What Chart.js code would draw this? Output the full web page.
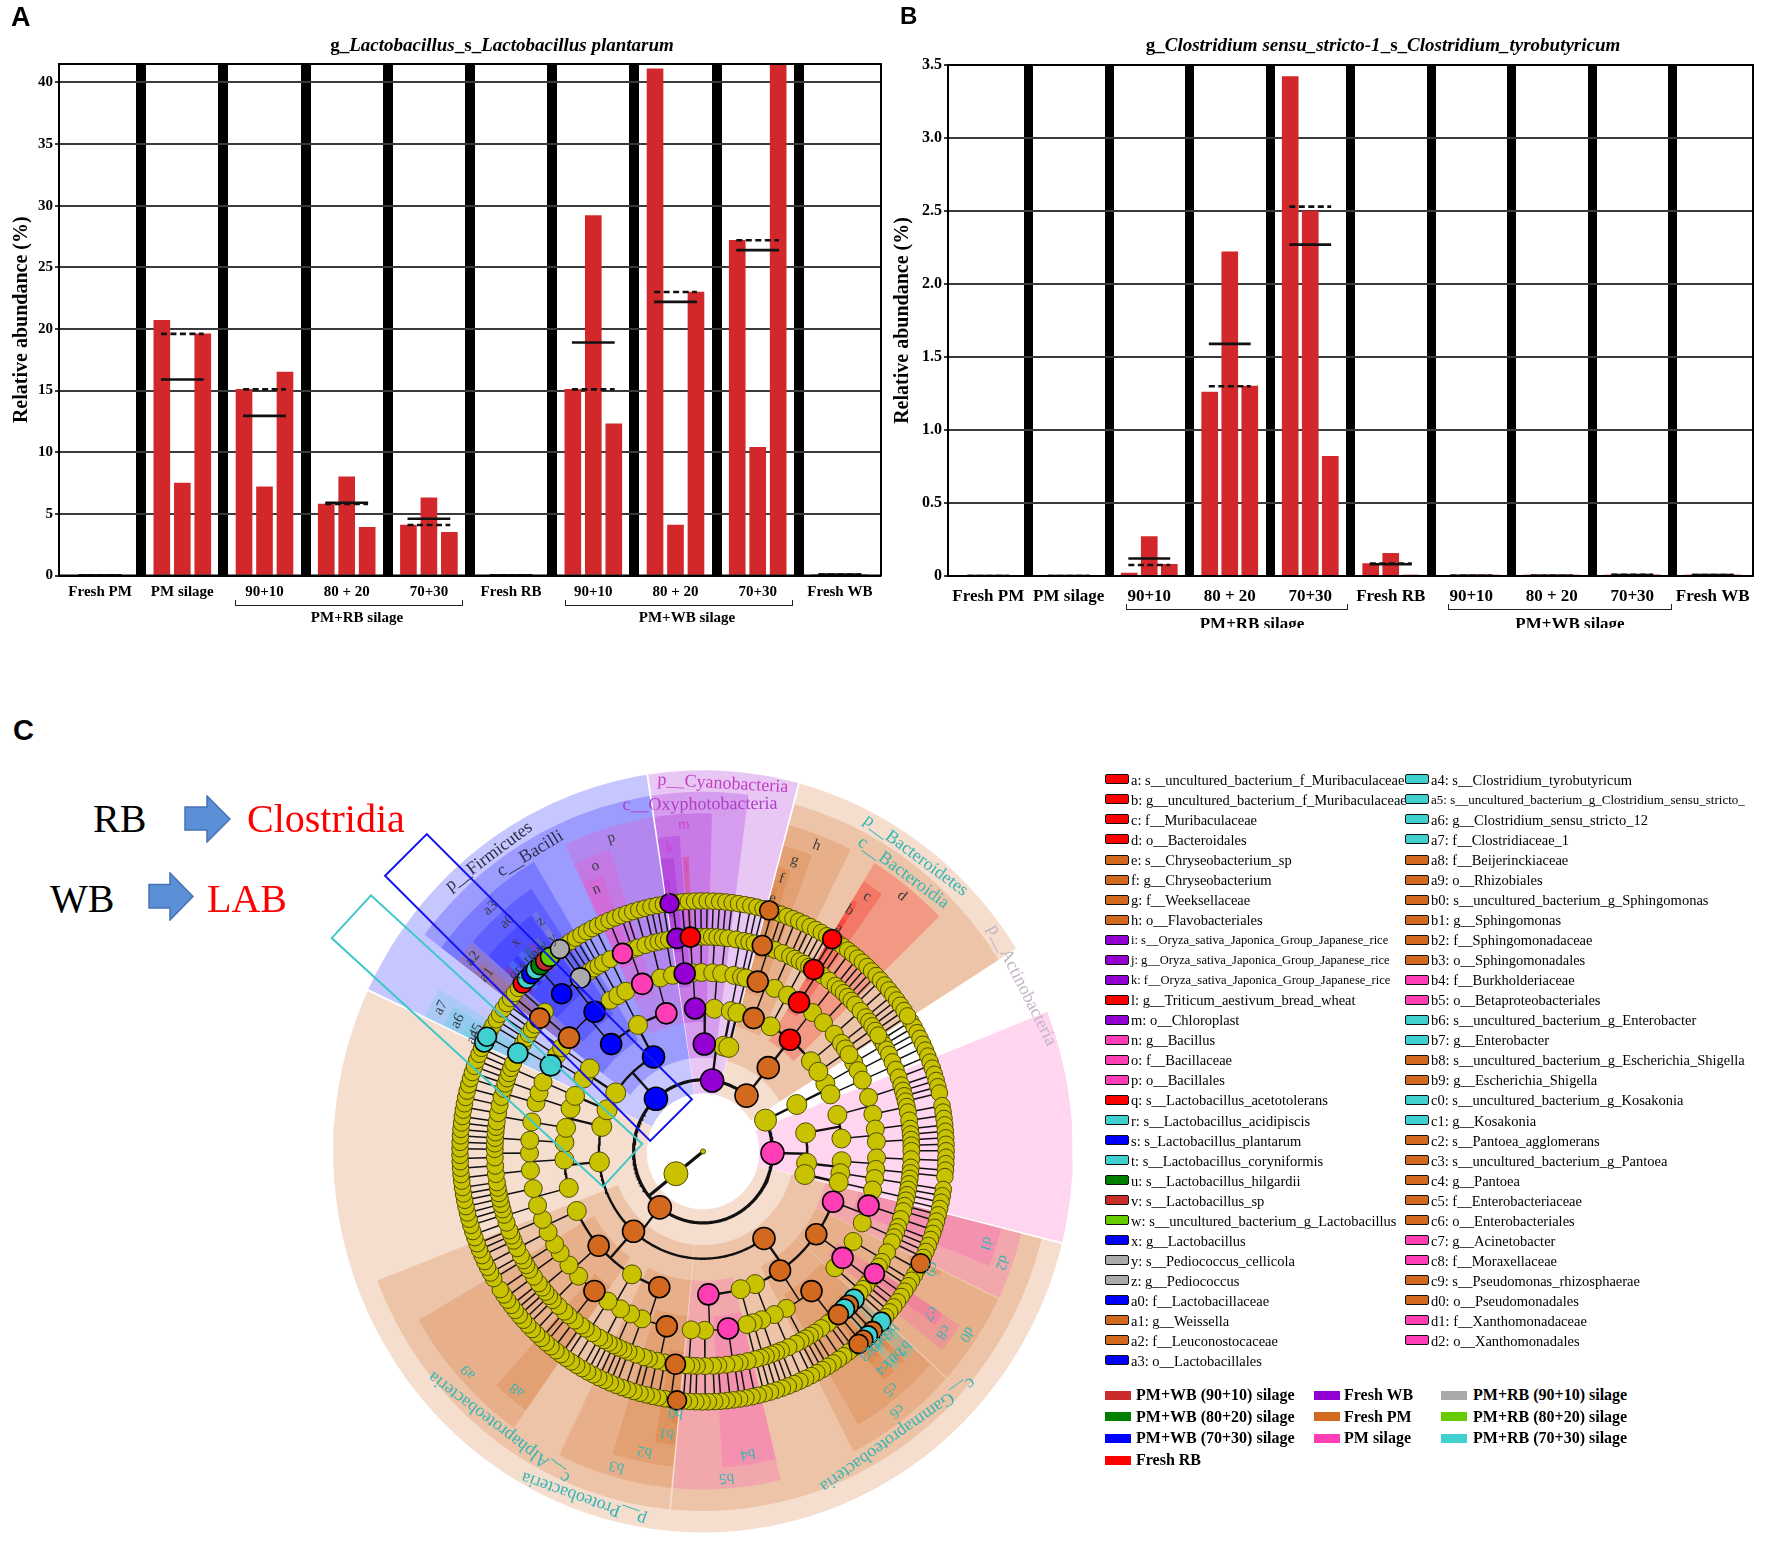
<!DOCTYPE html>
<html><head><meta charset="utf-8">
<script src="https://cdn.jsdelivr.net/npm/chart.js@4.4.1/dist/chart.umd.min.js"></script>
<style>
html,body{margin:0;padding:0;background:#fff;}
#page{position:relative;width:1772px;height:1564px;overflow:hidden;background:#fff;font-family:"Liberation Serif","Times New Roman",serif;color:#000;}
.abs{position:absolute;white-space:nowrap;}
canvas{position:absolute;}
.panel{position:absolute;font-family:"Liberation Sans",Arial,sans-serif;font-weight:bold;line-height:1;}
.ttl{position:absolute;font-weight:bold;font-size:19px;line-height:22px;white-space:nowrap;transform:translateX(-50%);}
.grp{position:absolute;font-weight:bold;line-height:1;white-space:nowrap;transform:translateX(-50%);}
.brk{position:absolute;border:1.6px solid #222;border-top:none;height:5px;}
.lg{position:absolute;line-height:20px;height:20px;white-space:nowrap;}
.box{position:absolute;width:22px;height:8px;border:1.6px solid #111;border-radius:2px;}
.gl{position:absolute;font-weight:bold;font-size:16px;line-height:20px;white-space:nowrap;}
.gbox{position:absolute;width:26px;height:9px;}
.big{position:absolute;font-size:40px;line-height:40px;white-space:nowrap;}
.rect{position:absolute;border-style:solid;border-width:2.5px;background:transparent;box-sizing:border-box;}
</style></head>
<body><div id="page">
<canvas id="cA" width="890" height="640" style="left:0;top:0"></canvas>
<canvas id="cB" width="892" height="640" style="left:880px;top:0"></canvas>
<canvas id="cC" width="870" height="864" style="left:270px;top:700px"></canvas>

<div class="panel" style="left:11px;top:4px;font-size:27px">A</div>
<div class="panel" style="left:900px;top:4px;font-size:24px">B</div>
<div class="panel" style="left:13px;top:716px;font-size:29px">C</div>

<div class="ttl" style="left:502px;top:34px">g_<i>Lactobacillus</i>_s_<i>Lactobacillus plantarum</i></div>
<div class="ttl" style="left:1383px;top:34px">g_<i>Clostridium sensu_stricto-1</i>_s_<i>Clostridium_tyrobutyricum</i></div>

<div class="brk" style="left:235px;top:600px;width:226px"></div>
<div class="brk" style="left:565px;top:600px;width:226px"></div>
<div class="grp" style="left:357px;top:610px;font-size:15px">PM+RB silage</div>
<div class="grp" style="left:687px;top:610px;font-size:15px">PM+WB silage</div>

<div class="abs" style="left:880px;top:0;width:892px;height:628px;overflow:hidden">
  <div class="brk" style="left:246px;top:604px;width:220px"></div>
  <div class="brk" style="left:568px;top:604px;width:222px"></div>
  <div class="grp" style="left:372px;top:615px;font-size:17px">PM+RB silage</div>
  <div class="grp" style="left:690px;top:615px;font-size:17px">PM+WB silage</div>
</div>

<div class="big" style="left:93px;top:799px">RB</div>
<div class="big" style="left:247px;top:799px;color:#ff0000">Clostridia</div>
<div class="big" style="left:50px;top:879px">WB</div>
<div class="big" style="left:207px;top:879px;color:#ff0000">LAB</div>
<svg class="abs" style="left:184px;top:795px" width="47" height="48" viewBox="0 0 47 48"><polygon points="1,12 23,12 23,1 46,24 23,47 23,35 1,35" fill="#5b8fd6" stroke="#4672b4" stroke-width="1.5"/></svg>
<svg class="abs" style="left:148px;top:872px" width="46" height="49" viewBox="0 0 46 49"><polygon points="1,12.5 22,12.5 22,1 45,24.5 22,48 22,36 1,36" fill="#5b8fd6" stroke="#4672b4" stroke-width="1.5"/></svg>

<div class="rect" style="left:349.5px;top:957px;width:377px;height:61px;border-color:#1414f0;transform:rotate(45deg)"></div>
<div class="rect" style="left:301.5px;top:1010.5px;width:370px;height:60px;border-color:#40c8c8;transform:rotate(42.5deg)"></div>
</div>

<script>
const SERIF = '"Liberation Serif", "Times New Roman", serif';
Chart.defaults.font.family = SERIF;

/* ---------------- Panel A / B data ---------------- */
const categories = ['Fresh PM','PM silage','90+10','80 + 20','70+30','Fresh RB','90+10','80 + 20','70+30','Fresh WB'];

const plantarumRep1   = [0, 20.7, 15.1, 5.8, 4.1, 0, 15.1, 41.1, 27.2, 0.08];
const plantarumRep2   = [0,  7.5,  7.2, 8.0, 6.3, 0, 29.2,  4.1, 10.4, 0.08];
const plantarumRep3   = [0, 19.6, 16.5, 3.9, 3.5, 0, 12.3, 23.0, 41.6, 0.08];
const plantarumMean   = [0, 15.9, 12.95, 5.9, 4.6, 0, 18.9, 22.2, 26.4, 0.08];
const plantarumMedian = [0, 19.6, 15.1, 5.8, 4.1, 0, 15.1, 23.0, 27.2, 0.08];
const plantarumTicks  = [0, 5, 10, 15, 20, 25, 30, 35, 40];

const tyroRep1   = [0, 0, 0.02, 1.26, 3.42, 0.085, 0, 0.002, 0.005, 0.005];
const tyroRep2   = [0, 0, 0.27, 2.22, 2.50, 0.155, 0.002, 0.002, 0.008, 0.006];
const tyroRep3   = [0, 0, 0.08, 1.30, 0.82, 0.003, 0.002, 0.002, 0.008, 0.006];
const tyroMean   = [0, 0, 0.12, 1.59, 2.27, 0.08, 0.002, 0.002, 0.007, 0.006];
const tyroMedian = [0, 0, 0.075, 1.30, 2.53, 0.085, 0.002, 0.002, 0.008, 0.006];
const tyroTicks  = [0, 0.5, 1, 1.5, 2, 2.5, 3, 3.5];

const BAR_RED = '#d3282b';

/* ---------------- Panel C data ---------------- */
const groupColors = {
  WB90:'#cc2b2b', WB80:'#008000', WB70:'#0000ff', RB:'#ff0000', WB:'#9400d3',
  PM:'#d2691e', PMs:'#ff3eb5', RB90:'#aaaaaa', RB80:'#66cc00', RB70:'#40d0d0'
};
const groupLegend = [
  ['WB90','PM+WB (90+10) silage',0,0],['WB80','PM+WB (80+20) silage',0,1],['WB70','PM+WB (70+30) silage',0,2],['RB','Fresh RB',0,3],
  ['WB','Fresh WB',1,0],['PM','Fresh PM',1,1],['PMs','PM silage',1,2],
  ['RB90','PM+RB (90+10) silage',2,0],['RB80','PM+RB (80+20) silage',2,1],['RB70','PM+RB (70+30) silage',2,2]
];
const cladeKeys = [
  ['a','s__uncultured_bacterium_f_Muribaculaceae','RB'],
  ['b','g__uncultured_bacterium_f_Muribaculaceae','RB'],
  ['c','f__Muribaculaceae','RB'],
  ['d','o__Bacteroidales','RB'],
  ['e','s__Chryseobacterium_sp','PM'],
  ['f','g__Chryseobacterium','PM'],
  ['g','f__Weeksellaceae','PM'],
  ['h','o__Flavobacteriales','PM'],
  ['i','s__Oryza_sativa_Japonica_Group_Japanese_rice','WB'],
  ['j','g__Oryza_sativa_Japonica_Group_Japanese_rice','WB'],
  ['k','f__Oryza_sativa_Japonica_Group_Japanese_rice','WB'],
  ['l','g__Triticum_aestivum_bread_wheat','RB'],
  ['m','o__Chloroplast','WB'],
  ['n','g__Bacillus','PMs'],
  ['o','f__Bacillaceae','PMs'],
  ['p','o__Bacillales','PMs'],
  ['q','s__Lactobacillus_acetotolerans','RB'],
  ['r','s__Lactobacillus_acidipiscis','RB70'],
  ['s','s_Lactobacillus_plantarum','WB70'],
  ['t','s__Lactobacillus_coryniformis','RB70'],
  ['u','s__Lactobacillus_hilgardii','WB80'],
  ['v','s__Lactobacillus_sp','WB90'],
  ['w','s__uncultured_bacterium_g_Lactobacillus','RB80'],
  ['x','g__Lactobacillus','WB70'],
  ['y','s__Pediococcus_cellicola','RB90'],
  ['z','g__Pediococcus','RB90'],
  ['a0','f__Lactobacillaceae','WB70'],
  ['a1','g__Weissella','PM'],
  ['a2','f__Leuconostocaceae','PM'],
  ['a3','o__Lactobacillales','WB70'],
  ['a4','s__Clostridium_tyrobutyricum','RB70'],
  ['a5','s__uncultured_bacterium_g_Clostridium_sensu_stricto_','RB70'],
  ['a6','g__Clostridium_sensu_stricto_12','RB70'],
  ['a7','f__Clostridiaceae_1','RB70'],
  ['a8','f__Beijerinckiaceae','PM'],
  ['a9','o__Rhizobiales','PM'],
  ['b0','s__uncultured_bacterium_g_Sphingomonas','PM'],
  ['b1','g__Sphingomonas','PM'],
  ['b2','f__Sphingomonadaceae','PM'],
  ['b3','o__Sphingomonadales','PM'],
  ['b4','f__Burkholderiaceae','PMs'],
  ['b5','o__Betaproteobacteriales','PMs'],
  ['b6','s__uncultured_bacterium_g_Enterobacter','RB70'],
  ['b7','g__Enterobacter','RB70'],
  ['b8','s__uncultured_bacterium_g_Escherichia_Shigella','PM'],
  ['b9','g__Escherichia_Shigella','PM'],
  ['c0','s__uncultured_bacterium_g_Kosakonia','RB70'],
  ['c1','g__Kosakonia','RB70'],
  ['c2','s__Pantoea_agglomerans','PM'],
  ['c3','s__uncultured_bacterium_g_Pantoea','PM'],
  ['c4','g__Pantoea','PM'],
  ['c5','f__Enterobacteriaceae','PM'],
  ['c6','o__Enterobacteriales','PM'],
  ['c7','g__Acinetobacter','PMs'],
  ['c8','f__Moraxellaceae','PMs'],
  ['c9','s__Pseudomonas_rhizosphaerae','PM'],
  ['d0','o__Pseudomonadales','PM'],
  ['d1','f__Xanthomonadaceae','PMs'],
  ['d2','o__Xanthomonadales','PMs']
];

/* taxonomic tree: phylum > class > order > family > genus > species.
   a number n = plain node with n leaf children; arrays = plain internal nodes */
const H = (label, grp, kids) => ({label, grp, kids: kids || []});
const N = (label, kids) => ({label, grp: null, kids});
const cladeTree = [
  N('p__Actinobacteria', [ [ [[1,1,1],[1]], [[2,1]] ] ]),
  H('', 'PMs', [
    [ [[2,1,1,1],[1,0,1]], [[2,1],[1,1,1]] ],
    [ [[1,2,1],[1]], [[0,1,1]] ],
    [ [[1,1]] ]
  ]),
  H('p__Proteobacteria', 'PM', [
    H('c__Gammaproteobacteria', 'PM', [
      H('d2','PMs', [ H('d1','PMs',[1,1,2,1]), [1,1,1] ]),
      H('d0','PM', [ [ [H('c9','PM'),0,0], 1, 1 ], H('c8','PMs',[ H('c7','PMs',[0,0]), 1, 1 ]), [1,1] ]),
      H('c6','PM', [ H('c5','PM', [ H('b7','RB70',[H('b6','RB70'),0]), H('b9','PM',[H('b8','PM')]),
                                    H('c1','RB70',[H('c0','RB70')]), H('c4','PM',[H('c2','PM'),H('c3','PM')]), 1, 1, 2, 1, 1 ]), [1,1] ]),
      [ [1,2,1], [1,1] ],
      [ [1,1], [1] ],
      H('b5','PMs', [ H('b4','PMs',[2,1,1,2,1]), [1,2,1], [1,1] ])
    ]),
    H('c__Alphaproteobacteria', 'PM', [
      H('b3','PM', [ H('b2','PM', [ H('b1','PM',[H('b0','PM'),0,0]), 1, 2, 1, 1 ]), [2,1,1], [1,1] ]),
      [ [1,1,1], [2,1] ],
      H('a9','PM', [ H('a8','PM',[1,2,1,1]), [2,1,1], [1,1,1], [2,1], [0,1] ]),
      [ [1,2,1], [1,1] ]
    ]),
    [ [[2,1,1],[1,1,1,1]], [[1,2,1],[2,1]], [[1,1,1]] ],
    [ [[1,1,2,1]], [[2,1],[1,1]] ],
    [ [[1,1,1]] ]
  ]),
  H('p__Firmicutes', 'WB70', [
    [ [ H('a7','RB70',[ H('a6','RB70',[H('a4','RB70'),H('a5','RB70'),0]), 1 ]), [1,1] ], [ [1,1] ] ],
    H('c__Bacilli', 'WB70', [
      H('a3','WB70', [
        H('a2','PM',[ H('a1','PM',[0,0]), 1 ]),
        H('a0','WB70',[ H('x','WB70',[H('q','RB'),H('r','RB70'),H('s','WB70'),H('t','RB70'),H('u','WB80'),H('v','WB90'),H('w','RB80'),0]),
                        H('z','RB90',[H('y','RB90')]), 1 ]),
        [1,1]
      ]),
      [ [1,1], [2] ],
      H('p','PMs', [ H('o','PMs',[ H('n','PMs',[0,0,0]), 1, 1 ]), [2,1,1], [1,1] ])
    ])
  ]),
  H('p__Cyanobacteria', 'WB', [
    H('c__Oxyphotobacteria', 'WB', [
      H('m','WB', [ H('k','WB',[ H('j','WB',[H('i','WB'),0]), 1 ]), [ H('l','RB',[0]) ], [1,1,1] ]),
      [ [1,1], [1,1] ]
    ]),
    [ [ [2,1], [1] ] ],
    [ [ [1] ] ]
  ]),
  H('p__Bacteroidetes', 'PM', [
    H('c__Bacteroidia', 'PM', [
      H('h','PM', [ H('g','PM',[ H('f','PM',[H('e','PM'),0]), 1, 1 ]), [2,1,1] ]),
      [ [1,1,1] ],
      H('d','RB', [ H('c','RB',[ H('b','RB',[H('a','RB')]), 1, 1 ]), [2,1,1], [1,1,1] ]),
      [ [1,2,1], [1] ],
      [ [1,1], [1] ]
    ])
  ])
];
const nameColors = {
  'p__Actinobacteria':'#c4b4c4','p__Proteobacteria':'#35b5b5','c__Gammaproteobacteria':'#35b5b5','c__Alphaproteobacteria':'#35b5b5',
  'p__Firmicutes':'#2b2b4a','c__Bacilli':'#2b2b4a','p__Cyanobacteria':'#c23ec2','c__Oxyphotobacteria':'#b03cc8',
  'p__Bacteroidetes':'#35b5b5','c__Bacteroidia':'#35b5b5'
};
const letterColors = {'p__Proteobacteria':'#35b5b5','p__Firmicutes':'#3a3a4a','p__Cyanobacteria':'#cc44cc','p__Bacteroidetes':'#3a3a3a'};

/* ---------------- Bar charts ---------------- */
const framePlugin = {
  id:'frame',
  afterDatasetsDraw(chart){
    const {ctx, chartArea:a} = chart;
    ctx.save(); ctx.strokeStyle='#000'; ctx.lineWidth=2;
    ctx.strokeRect(a.left, a.top, a.right-a.left, a.bottom-a.top);
    ctx.restore();
  }
};
function segs(vals){
  const out=[];
  vals.forEach((v,i)=>{ out.push({x:i+0.5-0.26,y:v},{x:i+0.5+0.26,y:v},{x:i+0.5,y:null}); });
  return out;
}
function barPoints(reps){
  const pts=[];
  reps.forEach((r,k)=>r.forEach((v,i)=>pts.push({x:i+0.5+(k-1)*0.249, y:v})));
  return pts;
}
function makeBars(id, s){
  return new Chart(document.getElementById(id), {
    type:'bar',
    data:{labels:categories, datasets:[
      {data:barPoints(s.reps), xAxisID:'x2', backgroundColor:BAR_RED, borderWidth:0, grouped:false, barThickness:16, order:3},
      {type:'line', data:segs(s.mean), xAxisID:'x2', borderColor:'#111', borderWidth:2.6, pointRadius:0, spanGaps:false, fill:false, order:1},
      {type:'line', data:segs(s.median), xAxisID:'x2', borderColor:'#111', borderWidth:2.6, borderDash:[6,3.5], pointRadius:0, spanGaps:false, fill:false, order:0}
    ]},
    options:{
      responsive:false, animation:false, events:[], devicePixelRatio:1,
      layout:{padding:{left:0, top:s.padTop, right:s.padRight, bottom:0}},
      plugins:{legend:{display:false}, tooltip:{enabled:false}},
      scales:{
        x:{type:'category', offset:true,
           grid:{offset:true, color:'#000', lineWidth:c=>(c.type==='tick' && c.index>0) ? s.sep : 0, drawTicks:false},
           border:{display:true, color:'#000', width:2},
           ticks:{autoSkip:false, maxRotation:0, minRotation:0, color:'#000', padding:s.xPad, font:{family:SERIF, size:s.xFont, weight:'bold'}},
           afterFit:sc=>{ sc.height = s.xH; }},
        x2:{type:'linear', display:false, offset:false, min:0, max:10, grid:{offset:false}},
        y:{type:'linear', min:0, max:s.yMax,
           afterBuildTicks:sc=>{ sc.ticks = s.ticks.map(v=>({value:v})); },
           ticks:{color:'#000', padding:2, font:{family:SERIF, size:s.yFont, weight:'bold'}, callback:s.fmt},
           grid:{color:'#3a3a3a', lineWidth:2, tickLength:4},
           border:{display:true, color:'#000', width:2},
           title:{display:true, text:'Relative abundance (%)', color:'#000', font:{family:SERIF, size:20, weight:'bold'}, padding:{top:s.tPad, bottom:0}},
           afterFit:sc=>{ sc.width = s.yW; }}
      }
    },
    plugins:[framePlugin]
  });
}
makeBars('cA', {reps:[plantarumRep1, plantarumRep2, plantarumRep3], mean:plantarumMean, median:plantarumMedian, ticks:plantarumTicks,
  yMax:41.5, sep:10, padTop:64, padRight:9, yW:59, xH:64.5, xPad:8, xFont:15, yFont:15, tPad:9.5, fmt:v=>String(v)});
makeBars('cB', {reps:[tyroRep1, tyroRep2, tyroRep3], mean:tyroMean, median:tyroMedian, ticks:tyroTicks,
  yMax:3.5, sep:9, padTop:65, padRight:19, yW:68, xH:64, xPad:10.5, xFont:17, yFont:16, tPad:11, fmt:v=>v===0?'0':v.toFixed(1)});

/* ---------------- Cladogram ---------------- */
const CLADE_START = -32;           // degrees, screen orientation (clockwise from east)
const LEVEL_OUTER = [0,0,10.65,10.05,9.45,8.85,8.25,7.65];
const YR = [2.5,12,11,10,9.5,9,8.5,8.3];
const CR = [3,12,11.5,11,10.5,10.5,10,9.5];
const YELLOW = '#c8c200', YELLOW_EDGE = '#4f4d00';

function hexA(hex,a){ const v=parseInt(hex.slice(1),16); return 'rgba('+((v>>16)&255)+','+((v>>8)&255)+','+(v&255)+','+a+')'; }
function polar(r,deg){ const t=deg*Math.PI/180; return {x:r*Math.cos(t), y:-r*Math.sin(t)}; }
function arcPts(r,a0,a1){ const n=Math.max(1,Math.ceil(Math.abs(a1-a0)/1.2)); const p=[]; for(let i=0;i<=n;i++) p.push(polar(r,a0+(a1-a0)*i/n)); return p; }
const BREAK = {x:0, y:null};

function normTree(n){
  if (typeof n === 'number'){ const kids=[]; for(let i=0;i<n;i++) kids.push({kids:[]}); return {kids}; }
  if (Array.isArray(n)) return {kids:n.map(normTree)};
  return {label:n.label, grp:n.grp, kids:(n.kids||[]).map(normTree)};
}
const rootNode = {kids:[{kids:cladeTree.map(normTree)}]};
function countLeaves(n){ return n.kids.length ? n.kids.reduce((s,k)=>s+countLeaves(k),0) : 1; }
const slotDeg = 360 / countLeaves(rootNode);
let leafCounter = 0;
function layout(n, level, phy){
  n.level = level;
  if (level === 2) phy = n.label || '';
  n.phy = phy;
  if (!n.kids.length){
    n.ang = CLADE_START + (leafCounter+0.5)*slotDeg; n.a0 = n.ang-slotDeg/2; n.a1 = n.ang+slotDeg/2; leafCounter++;
  } else {
    n.kids.forEach(k=>layout(k, level+1, phy));
    const f=n.kids[0], l=n.kids[n.kids.length-1];
    n.ang=(f.ang+l.ang)/2; n.a0=f.a0; n.a1=l.a1;
  }
}
layout(rootNode, 0, '');

const nodeList=[], edgeSets=[[],[],[]], sectorList=[], labelItems=[];
function walk(n){
  nodeList.push(n);
  if (n.kids.length){
    const L=n.level, set=edgeSets[L<=1?0:(L<=3?1:2)];
    set.push(L===0?{x:0,y:0}:polar(L,n.ang), polar(L+1,n.ang), BREAK);
    if (n.kids.length>1){ arcPts(L+1, n.kids[0].ang, n.kids[n.kids.length-1].ang).forEach(p=>set.push(p)); set.push(BREAK); }
    n.kids.forEach(walk);
  }
  if (n.grp) sectorList.push(n);
  if (n.label){
    const isName = /^[pc]__/.test(n.label);
    labelItems.push({text:n.label, r:LEVEL_OUTER[n.level]-(isName?0.36:0.3), ang:(n.a0+n.a1)/2,
      font:(isName?'18px ':'15px ')+SERIF, color:isName?(nameColors[n.label]||'#333'):(letterColors[n.phy]||'#333')});
  }
}
walk(rootNode);

const sectorDatasets = sectorList.map(n=>{
  const pad = slotDeg*0.1, a0=n.a0+pad, a1=n.a1-pad;
  const rin = n.level-0.38, rout = LEVEL_OUTER[n.level];
  const pts = arcPts(rout,a0,a1).concat(arcPts(rin,a1,a0)); pts.push(pts[0]);
  return {data:pts, showLine:true, fill:'shape', backgroundColor:hexA(groupColors[n.grp],0.22), borderWidth:0, pointRadius:0, order:100-n.level};
});
const yellowNodes = nodeList.filter(n=>!n.grp), colorNodes = nodeList.filter(n=>n.grp);
const pos = n => n.level===0 ? {x:0,y:0} : polar(n.level, n.ang);

const cladeText = {
  id:'cladeText',
  afterDatasetsDraw(chart){
    const {ctx, scales:{x, y}} = chart;
    labelItems.forEach(it=>{
      const t = it.ang*Math.PI/180;
      const px = x.getPixelForValue(it.r*Math.cos(t)), py = y.getPixelForValue(-it.r*Math.sin(t));
      ctx.save(); ctx.translate(px,py); ctx.rotate(t+Math.PI/2);
      ctx.font = it.font; ctx.fillStyle = it.color; ctx.textAlign='center'; ctx.textBaseline='middle';
      ctx.fillText(it.text,0,0); ctx.restore();
    });
  }
};

const UX = 35.8, UY = 36.9, CW = 870, CH = 864, CX = 433, CY = 452;
new Chart(document.getElementById('cC'), {
  type:'scatter',
  data:{datasets:[
    ...sectorDatasets,
    {data:edgeSets[0], showLine:true, borderColor:'#111', borderWidth:3.2, pointRadius:0, spanGaps:false, fill:false, order:12},
    {data:edgeSets[1], showLine:true, borderColor:'#111', borderWidth:2.4, pointRadius:0, spanGaps:false, fill:false, order:11},
    {data:edgeSets[2], showLine:true, borderColor:'#111', borderWidth:1.5, pointRadius:0, spanGaps:false, fill:false, order:10},
    {data:yellowNodes.map(pos), pointRadius:yellowNodes.map(n=>YR[n.level]), pointBackgroundColor:YELLOW, pointBorderColor:YELLOW_EDGE, pointBorderWidth:1, order:1},
    {data:colorNodes.map(pos), pointRadius:colorNodes.map(n=>CR[n.level]), pointBackgroundColor:colorNodes.map(n=>groupColors[n.grp]), pointBorderColor:'#000', pointBorderWidth:1.6, order:0}
  ]},
  options:{
    responsive:false, animation:false, events:[], devicePixelRatio:1,
    layout:{padding:0},
    plugins:{legend:{display:false}, tooltip:{enabled:false}},
    elements:{line:{tension:0}},
    scales:{
      x:{type:'linear', display:false, min:-CX/UX, max:(CW-CX)/UX},
      y:{type:'linear', display:false, min:-(CH-CY)/UY, max:CY/UY}
    }
  },
  plugins:[cladeText]
});

/* ---------------- HTML legends ---------------- */
const page = document.getElementById('page');
function el(cls, style, text){ const d=document.createElement('div'); d.className=cls; Object.assign(d.style, style); if(text!==undefined) d.textContent=text; page.appendChild(d); return d; }
const smallKeys = {i:12.5, j:12.5, k:12.5, a5:13};
cladeKeys.forEach((k,i)=>{
  const col = i<30 ? 0 : 1, row = col ? i-30 : i;
  const cy = 780 + row*20.03;
  el('box', {left:(col?1405:1105)+'px', top:(cy-5.6)+'px', background:groupColors[k[2]]});
  el('lg', {left:(col?1431:1131)+'px', top:(cy-10)+'px', fontSize:(smallKeys[k[0]]||14.5)+'px'}, k[0]+': '+k[1]);
});
const gBoxX=[1105,1314,1441], gTextX=[1136,1344,1473];
groupLegend.forEach(g=>{
  const cy = 1395 + g[3]*21.7;
  el('gbox', {left:gBoxX[g[2]]+'px', top:(cy-4.5)+'px', background:groupColors[g[0]]});
  el('gl', {left:gTextX[g[2]]+'px', top:(cy-10)+'px'}, g[1]);
});
</script>
</body></html>
